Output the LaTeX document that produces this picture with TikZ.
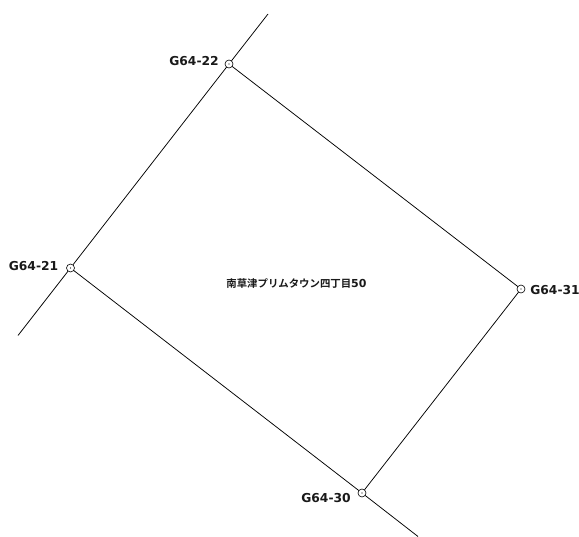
\documentclass[tikz,border=0pt]{standalone}
\usepackage{fontspec}
\setmainfont{DejaVu Sans}
\newfontfamily\cjkfont{Noto Sans CJK JP}[BoldFont={Noto Sans CJK JP Bold}]
\tikzset{
  pt/.style={circle,draw=black,fill=white,line width=0.6pt,minimum size=8pt,inner sep=0pt,outer sep=0pt},
  ln/.style={draw=black,line width=0.75pt},
  lbl/.style={font=\fontsize{12.3}{14}\selectfont\bfseries,text=black!90,inner sep=0pt}
}
\begin{document}
\begin{tikzpicture}[x=1pt,y=-1pt]
\useasboundingbox (0,0) rectangle (579,537);
\node[pt] (g22) at (229,64) {};
\node[pt] (g21) at (70.5,268) {};
\node[pt] (g31) at (521,289) {};
\node[pt] (g30) at (362,493) {};
\coordinate (e22) at (268,14);
\coordinate (e21) at (18,335.5);
\coordinate (e30) at (418,536.5);
\draw[ln] (g22) -- (e22);
\draw[ln] (g21) -- (e21);
\draw[ln] (g30) -- (e30);
\draw[ln] (g22) -- (g21);
\draw[ln] (g22) -- (g31);
\draw[ln] (g21) -- (g30);
\draw[ln] (g31) -- (g30);
\foreach \n in {g22,g21,g31,g30} \fill[black] (\n.center) circle (0.6);
\node[lbl,anchor=center] (t22) at (194,61) {G64-22};
\node[lbl,anchor=center] (t21) at (33.5,266) {G64-21};
\node[lbl,anchor=center] (t31) at (555,290) {G64-31};
\node[lbl,anchor=center] (t30) at (326,498) {G64-30};
\node[inner sep=0pt,text=black!90] (title) at (296.5,283.5) {{\cjkfont\bfseries\fontsize{10.4}{12}\selectfont 南草津プリムタウン四丁目}{\fontsize{11}{12}\selectfont\bfseries 50}};
\end{tikzpicture}
\end{document}
